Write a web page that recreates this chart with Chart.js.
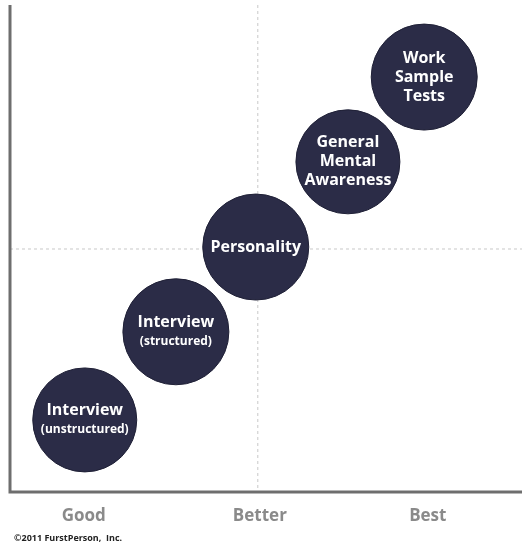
<!DOCTYPE html>
<html><head><meta charset="utf-8">
<script src="https://cdn.jsdelivr.net/npm/chart.js@4"></script>
<style>html,body{margin:0;padding:0;background:#fff}#w{width:527px;height:549px}</style>
</head><body><div id="w"><canvas id="c"></canvas></div>
<script>
const categories = [["Interview","(unstructured)"],["Interview","(structured)"],["Personality"],["General","Mental","Awareness"],["Work","Sample","Tests"]];
const xValues = [14.6, 32.4, 48, 66, 80.9];
const yValues = [14.8, 32.9, 50.3, 67.8, 85.2];
const radii = [52, 53, 53, 52, 53];
const tickLabels = ["Good","Better","Best"];
const tickValues = [14.4, 48.8, 81.6];
const copyright = "©2011 FurstPerson,  Inc.";

const deco = {
  id:'deco',
  beforeDatasetsDraw(ch){
    const c=ch.ctx, x=ch.scales.x, y=ch.scales.y, a=ch.chartArea;
    c.save();
    c.strokeStyle='#c8c8c8'; c.lineWidth=1; c.setLineDash([3,3]);
    const gx=x.getPixelForValue(48.4), gy=y.getPixelForValue(49.9);
    c.beginPath(); c.moveTo(gx,a.top); c.lineTo(gx,a.bottom); c.moveTo(a.left,gy); c.lineTo(a.right,gy); c.stroke();
    c.setLineDash([]);
    c.strokeStyle='#6e6e6e'; c.lineWidth=3;
    c.beginPath(); c.moveTo(a.left,a.top); c.lineTo(a.left,a.bottom); c.lineTo(a.right,a.bottom); c.stroke();
    c.fillStyle='#8a8a8a'; c.font='bold 17px "Open Sans"'; c.textAlign='center'; c.textBaseline='middle';
    tickLabels.forEach((t,i)=>c.fillText(t,x.getPixelForValue(tickValues[i]),516));
    c.fillStyle='#222'; c.font='bold 9px "Open Sans"'; c.textAlign='left';
    c.fillText(copyright,14,538);
    c.restore();
  },
  afterDatasetsDraw(ch){
    const c=ch.ctx; const m=ch.getDatasetMeta(0);
    c.save(); c.fillStyle='#fff'; c.textAlign='center'; c.textBaseline='middle';
    m.data.forEach((el,i)=>{
      const lines=categories[i]; const lh=19;
      const n=lines.length;
      lines.forEach((l,j)=>{
        const small=l.startsWith('(');
        c.font=small?'bold 12px "Open Sans"':'bold 16px "Open Sans"';
        const off = n===2 ? (j===0?-9:10) : (j-(n-1)/2)*lh;
        c.fillText(l,el.x,el.y+off);
      });
    });
    c.restore();
  }
};

new Chart(document.getElementById('c'),{
  type:'bubble',
  data:{datasets:[{
    data:xValues.map((v,i)=>({x:v,y:yValues[i],r:radii[i]})),
    backgroundColor:'#2b2c47', borderColor:'#1f2036', borderWidth:1
  }]},
  options:{
    responsive:true, maintainAspectRatio:false, animation:false,
    layout:{autoPadding:false,padding:{left:10,right:5,top:5,bottom:57}},
    plugins:{legend:{display:false},tooltip:{enabled:false}},
    scales:{x:{display:false,min:0,max:100},y:{display:false,min:0,max:100}}
  },
  plugins:[deco]
});
</script></body></html>
